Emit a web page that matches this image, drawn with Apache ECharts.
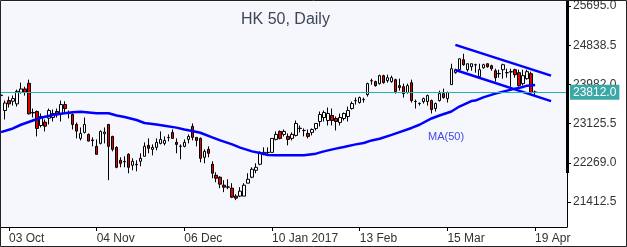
<!DOCTYPE html>
<html>
<head>
<meta charset="utf-8">
<title>HK 50, Daily</title>
<script src="https://cdn.jsdelivr.net/npm/echarts@6/dist/echarts.min.js"></script>
<style>
  html, body { margin: 0; padding: 0; background: #ffffff; }
  #chart { width: 627px; height: 247px; }
</style>
</head>
<body>
<div id="chart"></div>
<script>
// Trading days: weekdays from the first candle, minus HK market closures
const firstDay = '2016-09-29'
const dayCount = 143   // 135 candles + empty room on the right
const holidays = ['2016-10-10', '2016-10-21', '2016-12-26', '2016-12-27', '2017-01-02',
  '2017-01-30', '2017-01-31', '2017-04-04', '2017-04-14', '2017-04-17']
const tickDays = ['2016-10-03', '2016-11-04', '2016-12-06', '2017-01-10', '2017-02-13', '2017-03-15', '2017-04-19']
const monthNames = ['Jan', 'Feb', 'Mar', 'Apr', 'May', 'Jun', 'Jul', 'Aug', 'Sep', 'Oct', 'Nov', 'Dec']

// [open, close, low, high]
const ohlc = [
  [23739, 23750, 23695, 23782],
  [23413, 23576, 23217, 23630],
  [23630, 23558, 23478, 23717],
  [23615, 23673, 23521, 23739],
  [23558, 23832, 23499, 23869],
  [23810, 23884, 23782, 24021],
  [23884, 23810, 23739, 23934],
  [24006, 23341, 23326, 24087],
  [23369, 23360, 23260, 23456],
  [23391, 23021, 22847, 23413],
  [23086, 23282, 23043, 23347],
  [23158, 23071, 22956, 23217],
  [23245, 23413, 23108, 23456],
  [23260, 23347, 23173, 23434],
  [23391, 23326, 23260, 23456],
  [23347, 23543, 23173, 23630],
  [23543, 23456, 23369, 23615],
  [23355, 23350, 23239, 23413],
  [23326, 23108, 22999, 23347],
  [23108, 22963, 22804, 23152],
  [22804, 22912, 22760, 23043],
  [22934, 23108, 22912, 23260],
  [22891, 22745, 22739, 22912],
  [22770, 22755, 22630, 22826],
  [22630, 22456, 22456, 22782],
  [22695, 22956, 22673, 22978],
  [22906, 22941, 22695, 23043],
  [23108, 22630, 21891, 23120],
  [22847, 22565, 22521, 22860],
  [22608, 22173, 22152, 22630],
  [22326, 22260, 22173, 22391],
  [22300, 22293, 22173, 22413],
  [22456, 22173, 22043, 22478],
  [22217, 22304, 22108, 22369],
  [22228, 22239, 22086, 22326],
  [22304, 22369, 22195, 22478],
  [22413, 22630, 22413, 22717],
  [22652, 22586, 22478, 22804],
  [22565, 22608, 22434, 22673],
  [22608, 22717, 22543, 22804],
  [22695, 22782, 22673, 22956],
  [22695, 22760, 22652, 22847],
  [22820, 22826, 22739, 22891],
  [22934, 22804, 22804, 22999],
  [22717, 22673, 22478, 22804],
  [22635, 22630, 22347, 22673],
  [22630, 22717, 22608, 22782],
  [22782, 22847, 22695, 22891],
  [23065, 22826, 22760, 23130],
  [22826, 22760, 22630, 22830],
  [22804, 22369, 22282, 22826],
  [22391, 22521, 22260, 22565],
  [22565, 22478, 22391, 22630],
  [22239, 22043, 21934, 22304],
  [21999, 21934, 21847, 22065],
  [21956, 21804, 21717, 21978],
  [21782, 21739, 21630, 21891],
  [21745, 21739, 21695, 21912],
  [21717, 21521, 21499, 21826],
  [21543, 21499, 21456, 21586],
  [21543, 21652, 21521, 21739],
  [21543, 21782, 21543, 21826],
  [21826, 21912, 21826, 22043],
  [21956, 22130, 21934, 22173],
  [22108, 22173, 22043, 22260],
  [22239, 22478, 22217, 22521],
  [22456, 22499, 22434, 22608],
  [22495, 22499, 22456, 22608],
  [22499, 22804, 22499, 22804],
  [22782, 22891, 22760, 22956],
  [22956, 22804, 22782, 22978],
  [22891, 22956, 22847, 22999],
  [22847, 22782, 22652, 22912],
  [22804, 22891, 22760, 22934],
  [22869, 23130, 22847, 23195],
  [23025, 23021, 22934, 23086],
  [22978, 22975, 22847, 23021],
  [22912, 22847, 22804, 22999],
  [22934, 22999, 22869, 23021],
  [23021, 23130, 22978, 23130],
  [23173, 23326, 23065, 23391],
  [23260, 23369, 23173, 23413],
  [23195, 23347, 23086, 23478],
  [23304, 23195, 23086, 23456],
  [23239, 23173, 22978, 23282],
  [23152, 23260, 23086, 23347],
  [23239, 23347, 23195, 23369],
  [23282, 23413, 23173, 23499],
  [23456, 23565, 23434, 23608],
  [23625, 23630, 23543, 23695],
  [23586, 23695, 23565, 23717],
  [23650, 23655, 23586, 23695],
  [23760, 24000, 23717, 24021],
  [24060, 24065, 23978, 24108],
  [24043, 23956, 23934, 24065],
  [24000, 24174, 23978, 24195],
  [24174, 24021, 24000, 24195],
  [24065, 24130, 24021, 24195],
  [24043, 24130, 24021, 24174],
  [24087, 23826, 23782, 24108],
  [23956, 23913, 23847, 24108],
  [23934, 23782, 23695, 24000],
  [23804, 23956, 23782, 24000],
  [24021, 23630, 23586, 24087],
  [23610, 23608, 23456, 23652],
  [23570, 23565, 23521, 23586],
  [23608, 23673, 23565, 23695],
  [23608, 23739, 23521, 23760],
  [23630, 23434, 23347, 23652],
  [23456, 23565, 23391, 23586],
  [23630, 23782, 23608, 23847],
  [23782, 23695, 23673, 23891],
  [23673, 23804, 23586, 23826],
  [23978, 24326, 23978, 24434],
  [24239, 24304, 24217, 24326],
  [24304, 24543, 24261, 24543],
  [24521, 24413, 24391, 24652],
  [24304, 24434, 24261, 24434],
  [24369, 24434, 24282, 24434],
  [24410, 24413, 24239, 24434],
  [24152, 24304, 24130, 24434],
  [24347, 24413, 24326, 24434],
  [24434, 24369, 24347, 24440],
  [24391, 24326, 24282, 24413],
  [24282, 24130, 24043, 24326],
  [24220, 24217, 24130, 24304],
  [24304, 24413, 24108, 24434],
  [24240, 24239, 24130, 24326],
  [24255, 24261, 23934, 24326],
  [24304, 24195, 24130, 24326],
  [24239, 23956, 23934, 24304],
  [24000, 24174, 23956, 24304],
  [24108, 24261, 24087, 24304],
  [24217, 23804, 23782, 24261],
  [23815, 23812, 23739, 23847]
]

// MA(50): [day index, value]
const maPoints = [
  [0, 22941], [3, 23021], [5, 23102], [8, 23195], [10, 23254], [13, 23315], [15, 23341],
  [18, 23376], [20, 23385], [24, 23354], [27, 23354], [29, 23304], [31, 23271], [34, 23206],
  [36, 23141], [39, 23108], [41, 23082], [44, 23039], [46, 22999], [48, 22967], [50, 22928],
  [53, 22826], [55, 22760], [58, 22673], [60, 22602], [63, 22521], [65, 22484], [67, 22441],
  [69, 22434], [76, 22434], [79, 22471], [81, 22521], [84, 22580], [86, 22615], [89, 22673],
  [91, 22702], [93, 22760], [95, 22797], [98, 22880], [100, 22941], [103, 23032], [105, 23102],
  [108, 23239], [110, 23304], [113, 23391], [115, 23499], [118, 23619], [119, 23630],
  [121, 23700], [124, 23782], [126, 23826], [129, 23891], [131, 23928], [132, 23956], [134, 23971]
]

// Descending channel drawn on the chart
const upperChannel = [[114, 24847], [138, 24174]]
const lowerChannel = [[114, 24297], [138, 23619]]

const lastPrice = 23812.0
const yTicks = [21412.5, 22269.0, 23125.5, 23982.0, 24838.5, 25695.0]
const yMin = 20869
const yMax = 25782

// Build trading day list
const categories = []
let t = Date.parse(firstDay + 'T00:00:00Z')
while (categories.length < dayCount) {
  const d = new Date(t)
  const iso = d.toISOString().slice(0, 10)
  const dow = d.getUTCDay()
  if (dow !== 0 && dow !== 6 && !holidays.includes(iso)) categories.push(iso)
  t += 86400000
}

const fmtDay = (iso) => {
  const [y, m, d] = iso.split('-')
  const mon = monthNames[Number(m) - 1]
  return d + ' ' + mon + (mon === 'Jan' ? ' ' + y : '')
}
const isTick = (i) => tickDays.includes(categories[i])

const font = "'Liberation Sans', Arial, sans-serif"
const chart = echarts.init(document.getElementById('chart'))

chart.setOption({
  animation: false,
  backgroundColor: '#ffffff',
  textStyle: { fontFamily: font },
  title: {
    text: 'HK 50, Daily',
    left: 236,
    top: 7,
    textStyle: { fontSize: 16, fontWeight: 'normal', color: '#3d4556', fontFamily: font }
  },
  grid: {
    left: 1, top: 1, width: 566, height: 226,
    show: true, backgroundColor: '#f5f7fd', borderWidth: 0
  },
  xAxis: {
    type: 'category',
    data: categories,
    boundaryGap: false,
    axisLine: { lineStyle: { color: '#000', width: 1 } },
    axisTick: { interval: isTick, length: 4, lineStyle: { color: '#000' } },
    axisLabel: {
      interval: isTick,
      formatter: fmtDay,
      align: 'left',
      margin: 6,
      color: '#333',
      fontSize: 12,
      fontFamily: font
    },
    splitLine: { show: false }
  },
  yAxis: {
    type: 'value',
    position: 'right',
    min: yMin,
    max: yMax,
    axisLine: { show: true, lineStyle: { color: '#000', width: 1 } },
    axisTick: { show: true, customValues: yTicks, length: 4, lineStyle: { color: '#000' } },
    axisLabel: {
      customValues: yTicks,
      formatter: (v) => v.toFixed(1),
      margin: 6,
      color: '#333',
      fontSize: 12,
      fontFamily: font
    },
    splitLine: { show: false }
  },
  series: [
    {
      name: 'HK 50',
      type: 'candlestick',
      data: ohlc,
      barWidth: 3,
      itemStyle: {
        color: '#ffffff',
        color0: '#e00000',
        borderColor: '#000000',
        borderColor0: '#000000',
        borderWidth: 1
      },
      markLine: {
        silent: true,
        symbol: ['none', 'none'],
        lineStyle: { color: '#25b2b0', width: 1, type: 'solid' },
        label: {
          show: true,
          position: 'end',
          distance: 3,
          formatter: () => lastPrice.toFixed(1),
          backgroundColor: '#3aa9a5',
          color: '#ffffff',
          fontSize: 12,
          fontFamily: font,
          padding: [2, 3, 1, 3]
        },
        data: [{ yAxis: lastPrice }]
      }
    },
    {
      name: 'MA(50)',
      type: 'line',
      data: maPoints,
      symbol: 'none',
      lineStyle: { color: '#0000ff', width: 2.5 },
      z: 3
    },
    {
      name: 'upper',
      type: 'line',
      data: upperChannel,
      symbol: 'none',
      lineStyle: { color: '#0000ff', width: 2.5 },
      z: 3
    },
    {
      name: 'lower',
      type: 'line',
      data: lowerChannel,
      symbol: 'none',
      lineStyle: { color: '#0000ff', width: 2.5 },
      z: 3
    }
  ],
  graphic: [
    // thick part of the price scale edge
    { type: 'rect', shape: { x: 566, y: 1, width: 3, height: 172 }, style: { fill: '#000' }, z: 10 },
    { type: 'text', x: 428, y: 131, style: { text: 'MA(50)', fontSize: 11, fontFamily: font, fill: '#4646e6' }, z: 10 },
    // outer frame
    { type: 'rect', shape: { x: 0.5, y: 0.5, width: 626, height: 246 }, style: { fill: 'none', stroke: '#222', lineWidth: 1 }, z: 10 }
  ]
})

window.addEventListener('resize', () => chart.resize())
</script>
</body>
</html>
